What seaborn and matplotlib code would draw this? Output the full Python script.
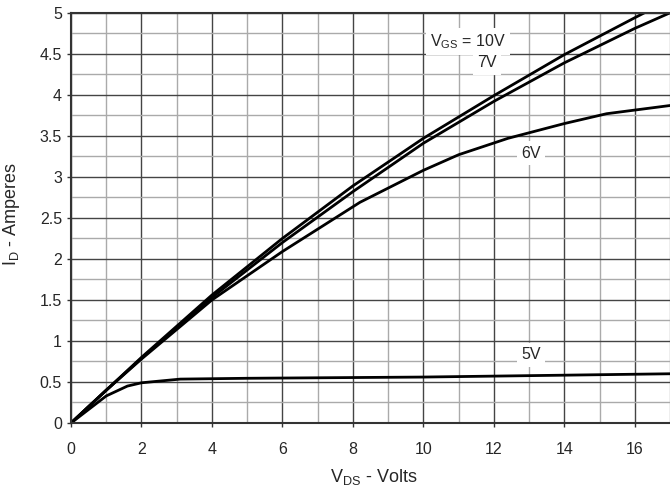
import pandas as pd
import numpy as np
import seaborn as sns
import matplotlib.pyplot as plt
from matplotlib.ticker import MultipleLocator

# Output characteristics, I_D vs V_DS for several V_GS
vds_10v = [0, 1, 2, 4, 6, 8, 10, 12, 14, 16, 17]
id_10v = [0, 0.40, 0.80, 1.56, 2.25, 2.89, 3.47, 3.99, 4.49, 4.94, 5.16]

vds_7v = [0, 1, 2, 4, 6, 8, 10, 12, 14, 16, 17]
id_7v = [0, 0.40, 0.79, 1.53, 2.20, 2.82, 3.41, 3.92, 4.39, 4.81, 5.00]

vds_6v = [0, 1, 2, 4, 6, 8.2, 10, 11, 12.4, 14, 15.2, 17]
id_6v = [0, 0.40, 0.78, 1.50, 2.09, 2.69, 3.08, 3.27, 3.47, 3.65, 3.77, 3.87]

vds_5v = [0, 1, 1.6, 2, 3.1, 5, 10, 17]
id_5v = [0, 0.33, 0.45, 0.49, 0.535, 0.545, 0.56, 0.60]

series = {"10V": (vds_10v, id_10v), "7V": (vds_7v, id_7v),
          "6V": (vds_6v, id_6v), "5V": (vds_5v, id_5v)}

rows = []
for vgs, (xs, ys) in series.items():
    for x, y in zip(xs, ys):
        rows.append({"vgs": vgs, "vds": x, "id": y})
df = pd.DataFrame(rows)

sns.set_style("white")
plt.rcParams['font.family'] = ['Liberation Sans', 'DejaVu Sans']
plt.rcParams['mathtext.fontset'] = 'custom'
plt.rcParams['mathtext.rm'] = 'Liberation Sans'

fig = plt.figure(figsize=(6.7, 4.93), dpi=100)
ax = fig.add_axes([0.106, 0.142, 0.894, 0.832])

sns.lineplot(data=df, x="vds", y="id", hue="vgs", units="vgs", estimator=None,
             sort=False, palette=["black"] * 4, linewidth=2, legend=False, ax=ax)

ax.set_xlim(0, 17)
ax.set_ylim(0, 5)
ax.xaxis.set_major_locator(MultipleLocator(2))
ax.xaxis.set_minor_locator(MultipleLocator(1))
ax.yaxis.set_major_locator(MultipleLocator(0.5))
ax.yaxis.set_minor_locator(MultipleLocator(0.25))
ax.yaxis.set_major_formatter(plt.FuncFormatter(lambda v, p: f"{v:g}"))

ax.grid(which="major", color="#444444", linewidth=1)
ax.grid(which="minor", color="#aaaaaa", linewidth=1)
ax.set_axisbelow(True)

for s in ["left", "bottom", "top"]:
    ax.spines[s].set_color("#333333")
    ax.spines[s].set_linewidth(1.5)
ax.spines["right"].set_visible(False)

ax.tick_params(which="major", direction="out", length=3, width=1, color="#333333",
               labelsize=11.5, left=True, bottom=True)
ax.tick_params(axis="x", pad=10.5)
ax.tick_params(axis="y", pad=3.5)
ax.tick_params(which="minor", length=0)

ax.set_xlabel(r"$\mathregular{V_{DS}}$ - Volts", fontsize=13)
ax.set_ylabel(r"$\mathregular{I_D}$ - Amperes", fontsize=13)
ax.xaxis.set_label_coords(0.505, -0.108)
ax.yaxis.set_label_coords(-0.082, 0.51)

box = dict(facecolor="white", edgecolor="none", pad=3)
ax.text(11.27, 4.65, r"$\mathregular{V_{GS}}$ = 10V", fontsize=11.5,
        ha="center", va="center", bbox=box)
ax.text(11.8, 4.39, "7V", fontsize=11.5, ha="center", va="center", bbox=box)
ax.text(13.05, 3.29, "6V", fontsize=11.5, ha="center", va="center", bbox=box)
ax.text(13.05, 0.83, "5V", fontsize=11.5, ha="center", va="center", bbox=box)

plt.savefig("out.png", dpi=100)
